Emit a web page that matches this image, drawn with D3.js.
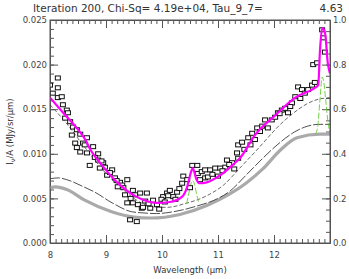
<!DOCTYPE html>
<html>
<head>
<meta charset="utf-8">
<script src="https://cdn.jsdelivr.net/npm/d3@7"></script>
<style>
  body { margin: 0; background: #fff; }
  text { font-family: "DejaVu Sans", sans-serif; fill: #333; }
  .axis path, .axis line { stroke: #555; }
  .axis text { font-size: 8.5px; fill: #444; }
</style>
</head>
<body>
<div id="chart"></div>
<script>
// observed spectrum (wavelength um, intensity)
var obsWave = [8.00, 8.14, 8.14, 8.14, 8.21, 8.23, 8.30, 8.32, 8.36, 8.41, 8.48, 8.39, 8.54, 8.66, 8.45, 8.59,
  8.48, 8.77, 8.54, 8.86, 8.66, 8.80, 8.71, 8.86, 8.95, 8.98, 8.89, 9.11, 9.02, 9.16, 9.25, 9.38, 9.29, 9.21,
  9.48, 9.34, 9.52, 9.61, 9.38, 9.48, 9.57, 9.64, 9.43, 9.55, 9.73, 9.66, 9.79, 9.91, 9.84, 10.02, 10.09, 10.14,
  10.20, 10.27, 10.36, 10.38, 10.54, 10.63, 10.64, 10.71, 10.77, 10.86, 10.95, 11.04, 11.13, 11.16, 11.25, 11.34,
  11.36, 10.77, 11.36, 11.43, 11.54, 11.61, 11.70, 11.79, 11.84, 11.89, 11.96, 12.02, 12.07, 12.14, 12.20, 12.25,
  12.32, 12.38, 12.43, 12.50, 12.55, 12.61, 12.68, 12.73, 12.70, 12.77, 12.86, 12.88, 12.91,
  8.05, 8.27, 8.62, 8.92, 9.07, 9.19, 9.31, 9.44, 9.70, 9.76, 9.95, 9.99, 10.05, 10.11, 10.24, 10.31, 10.45,
  10.50, 10.68, 10.82, 10.90, 11.00, 11.08, 11.20, 11.29, 11.47, 11.58, 11.66, 11.75, 12.10, 12.29, 12.47];
var obsFlux = [0.0177, 0.0185, 0.0174, 0.0163, 0.0164, 0.0155, 0.0149, 0.0146, 0.0136, 0.0130, 0.0127, 0.0121,
  0.0122, 0.0118, 0.0112, 0.0112, 0.0107, 0.0108, 0.0102, 0.0100, 0.0101, 0.0096, 0.0087, 0.0093, 0.0090, 0.0085,
  0.0084, 0.0082, 0.0076, 0.0073, 0.0068, 0.0071, 0.0065, 0.0063, 0.0059, 0.0054, 0.0054, 0.0056, 0.0045, 0.0045,
  0.0043, 0.0039, 0.0026, 0.0024, 0.0056, 0.0040, 0.0039, 0.0043, 0.0048, 0.0052, 0.0056, 0.0059, 0.0052, 0.0057,
  0.0067, 0.0075, 0.0087, 0.0087, 0.0078, 0.0080, 0.0082, 0.0082, 0.0084, 0.0084, 0.0085, 0.0093, 0.0090, 0.0101,
  0.0095, 0.0073, 0.0110, 0.0113, 0.0118, 0.0123, 0.0129, 0.0131, 0.0138, 0.0129, 0.0138, 0.0141, 0.0146, 0.0149,
  0.0151, 0.0146, 0.0157, 0.0164, 0.0175, 0.0172, 0.0168, 0.0172, 0.0177, 0.0180, 0.0200, 0.0202, 0.0239, 0.0230,
  0.0214,
  0.0168, 0.0140, 0.0110, 0.0092, 0.0079, 0.0070, 0.0062, 0.0050, 0.0047, 0.0044, 0.0038, 0.0049, 0.0046, 0.0053,
  0.0049, 0.0061, 0.0071, 0.0062, 0.0071, 0.0074, 0.0077, 0.0075, 0.0081, 0.0088, 0.0083, 0.0105, 0.0110, 0.0116,
  0.0125, 0.0145, 0.0153, 0.0162];

// total model (magenta)
var fitWave = [8.00, 8.25, 8.54, 8.63, 8.71, 8.93, 9.20, 9.54, 9.90, 10.14, 10.36, 10.45, 10.52, 10.55, 10.61,
  10.66, 10.80, 11.04, 11.27, 11.39, 11.66, 12.02, 12.38, 12.73, 12.79, 12.82, 12.86, 12.91, 12.96, 13.00];
var fitFlux = [0.0163, 0.0145, 0.0124, 0.0116, 0.0106, 0.0087, 0.0068, 0.0052, 0.0045, 0.0046, 0.0052, 0.0063,
  0.0080, 0.0084, 0.0072, 0.0067, 0.0068, 0.0076, 0.0088, 0.0095, 0.0121, 0.0143, 0.0163, 0.0174, 0.0177, 0.0215,
  0.0241, 0.0236, 0.0202, 0.0190];

// dashed continuum
var contWave = [8.00, 8.27, 8.60, 9.00, 9.30, 9.60, 9.85, 10.10, 10.40, 10.80, 11.10, 11.39, 11.66, 12.20, 12.73, 13.00];
var contFlux = [0.0155, 0.0136, 0.0109, 0.0078, 0.0060, 0.0046, 0.0040, 0.0040, 0.0044, 0.0053, 0.0065, 0.0084,
  0.0102, 0.0138, 0.0160, 0.0163];

// thin black component
var compWave = [8.00, 8.15, 8.30, 8.60, 8.80, 9.11, 9.46, 9.61, 9.90, 10.20, 10.60, 11.00, 11.21, 11.50, 11.80,
  12.02, 12.41, 12.60, 12.80, 13.00];
var compFlux = [0.0072, 0.0073, 0.0071, 0.0063, 0.0057, 0.0045, 0.0035, 0.0034, 0.0033, 0.0035, 0.0041, 0.0050,
  0.0058, 0.0076, 0.0095, 0.0108, 0.0126, 0.0131, 0.0133, 0.0133];

// thick gray component
var grayWave = [8.00, 8.10, 8.30, 8.62, 9.10, 9.50, 9.80, 10.32, 10.80, 11.21, 11.50, 11.80, 12.11, 12.41, 12.82, 13.00];
var grayFlux = [0.0062, 0.0063, 0.0060, 0.0048, 0.0035, 0.0029, 0.0028, 0.0032, 0.0042, 0.0055, 0.0067, 0.0083,
  0.0104, 0.0118, 0.0122, 0.0122];

// green line features
var line1Wave = [10.44, 10.48, 10.52, 10.55, 10.58, 10.62, 10.66];
var line1Flux = [0.0044, 0.0056, 0.0067, 0.0070, 0.0066, 0.0054, 0.0045];
var line2Wave = [12.74, 12.78, 12.82, 12.86, 12.89, 12.93, 12.97, 13.00];
var line2Flux = [0.0122, 0.0130, 0.0160, 0.0186, 0.0180, 0.0156, 0.0133, 0.0124];

var xTicks = [8, 9, 10, 11, 12];
var yTicks = [0, 0.005, 0.010, 0.015, 0.020, 0.025];
var y2Ticks = [0, 0.2, 0.4, 0.6, 0.8, 1.0];

var W = 349, H = 279;
var m = {left: 50, right: 19, top: 20, bottom: 36};
var w = W - m.left - m.right, h = H - m.top - m.bottom;

var svg = d3.select("#chart").append("svg")
  .attr("width", W).attr("height", H);

var x = d3.scaleLinear().domain([8, 13]).range([m.left, m.left + w]);
var y = d3.scaleLinear().domain([0, 0.025]).range([m.top + h, m.top]);
var y2 = d3.scaleLinear().domain([0, 1]).range([m.top + h, m.top]);

function pairs(xs, ys) { return xs.map((v, i) => [v, ys[i]]); }

// axes: inward major + minor ticks
function addAxis(axisFn, scale, major, minor, fmt, transform, pad) {
  let g = svg.append("g").attr("class", "axis").attr("transform", transform);
  g.call(axisFn(scale).tickValues(minor).tickSize(-4).tickFormat(""));
  let g2 = svg.append("g").attr("class", "axis").attr("transform", transform);
  g2.call(axisFn(scale).tickValues(major).tickSize(-8).tickPadding(pad)
    .tickFormat(fmt || ""));
  g2.select(".domain").remove();
  return g2;
}
var xMinor = d3.range(80, 131).map(d => d / 10);
var yMinor = d3.range(0, 26).map(d => d / 1000);
var y2Minor = d3.range(0, 21).map(d => d / 20);

addAxis(d3.axisBottom, x, xTicks, xMinor, d3.format("d"), `translate(0,${m.top + h})`, 9);
addAxis(d3.axisTop, x, xTicks, xMinor, null, `translate(0,${m.top})`, 0);
addAxis(d3.axisLeft, y, yTicks, yMinor, d3.format(".3f"), `translate(${m.left},0)`, 3);
addAxis(d3.axisRight, y2, y2Ticks, y2Minor, d3.format(".1f"), `translate(${m.left + w},0)`, 3);

var clip = svg.append("clipPath").attr("id", "clip").append("rect")
  .attr("x", m.left).attr("y", m.top).attr("width", w).attr("height", h);
var layer = svg.append("g").attr("clip-path", "url(#clip)");

var line = d3.line().x(d => x(d[0])).y(d => y(d[1])).curve(d3.curveMonotoneX);

layer.append("path").datum(pairs(grayWave, grayFlux)).attr("d", line)
  .attr("fill", "none").attr("stroke", "#aaa").attr("stroke-width", 3.2);
layer.append("path").datum(pairs(compWave, compFlux)).attr("d", line)
  .attr("fill", "none").attr("stroke", "#222").attr("stroke-width", 0.8)
  .attr("stroke-dasharray", "10,2");
layer.append("path").datum(pairs(contWave, contFlux)).attr("d", line)
  .attr("fill", "none").attr("stroke", "#444").attr("stroke-width", 0.8)
  .attr("stroke-dasharray", "4,2");
[pairs(line1Wave, line1Flux), pairs(line2Wave, line2Flux)].forEach(function(seg) {
  layer.append("path").datum(seg).attr("d", line)
    .attr("fill", "none").attr("stroke", "#66cc33").attr("stroke-width", 0.9)
    .attr("stroke-dasharray", "6,2");
});

layer.selectAll("rect.obs").data(pairs(obsWave, obsFlux)).enter()
  .append("rect").attr("class", "obs")
  .attr("x", d => x(d[0]) - 2.5).attr("y", d => y(d[1]) - 2)
  .attr("width", 5).attr("height", 4)
  .attr("fill", "#fff").attr("stroke", "#111").attr("stroke-width", 1);

layer.append("path").datum(pairs(fitWave, fitFlux)).attr("d", line)
  .attr("fill", "none").attr("stroke", "#ff00ff").attr("stroke-width", 2.2);

// frame line on top of everything
svg.append("rect").attr("x", m.left).attr("y", m.top).attr("width", w).attr("height", h)
  .attr("fill", "none").attr("stroke", "#555").attr("stroke-width", 1);

// title
svg.append("text").attr("x", 33).attr("y", 12).style("font-size", "10.5px")
  .text("Iteration 200, Chi-Sq= 4.19e+04, Tau_9_7=");
svg.append("text").attr("x", 343).attr("y", 12).attr("text-anchor", "end").style("font-size", "10.5px")
  .text("4.63");

// axis titles
svg.append("text").attr("x", m.left + w / 2).attr("y", 273).attr("text-anchor", "middle")
  .style("font-size", "8.5px").text("Wavelength (\u00b5m)");
var yl = svg.append("text").attr("transform", `translate(13,${m.top + h / 2}) rotate(-90)`)
  .attr("text-anchor", "middle").style("font-size", "8.5px");
yl.append("tspan").text("I");
yl.append("tspan").attr("dy", 2).style("font-size", "6.5px").text("\u03bd");
yl.append("tspan").attr("dy", -2).text("/A (MJy/sr/\u00b5m)");
</script>
</body>
</html>
